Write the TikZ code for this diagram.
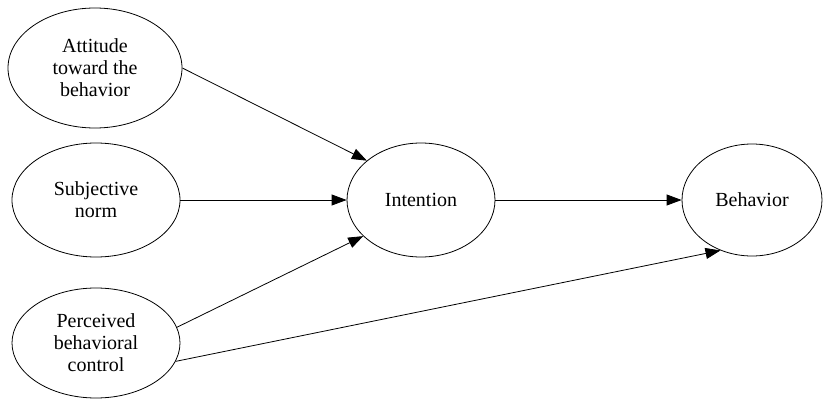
\documentclass[tikz,border=0pt]{standalone}
\usepackage{fontspec}
\setmainfont{Liberation Serif}
\usepackage{tikz}
\usetikzlibrary{positioning,arrows.meta,shapes.geometric}

\tikzset{
  construct/.style={ellipse,draw,line width=0.8pt,inner sep=0pt,align=center,
    font=\fontsize{20}{22}\selectfont},
  link/.style={line width=0.8pt,-{Triangle[length=15pt,width=11pt]}}
}

\begin{document}
\begin{tikzpicture}[x=1pt,y=-1pt]
\useasboundingbox (0,0) rectangle (823,399);
% predictors
\node[construct,minimum width=174,minimum height=120] (att) at (95,68) {Attitude\\toward the\\behavior};
\node[construct,minimum width=168,minimum height=114] (subj) at (96,200) {Subjective\\norm};
\node[construct,minimum width=168,minimum height=110] (pbc) at (96,343) {Perceived\\behavioral\\control};
% outcomes
\node[construct,minimum width=148,minimum height=114] (int) at (421,200) {Intention};
\node[construct,minimum width=140,minimum height=112] (beh) at (752,200) {Behavior};

\draw[link] (att.east) -- (int.144);
\draw[link] (subj.east) -- (int.west);
\draw[link] (pbc.11) -- (int.212);
\draw[link] (int.east) -- (beh.west);
\draw[link] (pbc.347) -- (beh.238);
\end{tikzpicture}
\end{document}
